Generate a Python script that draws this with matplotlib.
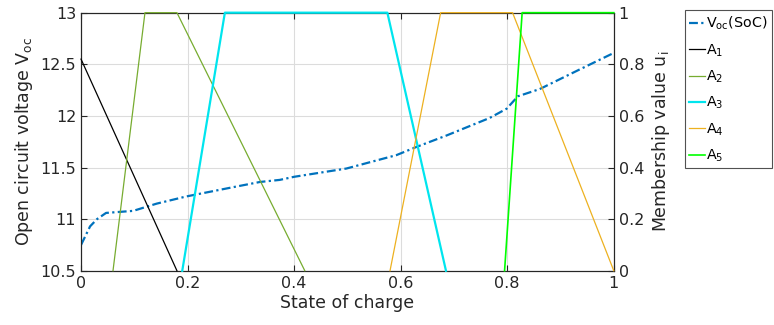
import matplotlib
matplotlib.use("Agg")
import matplotlib.pyplot as plt
import numpy as np

# Open circuit voltage curve
soc = [0, 0.017, 0.03, 0.047, 0.098, 0.142, 0.198, 0.286, 0.336, 0.373, 0.4,
       0.498, 0.592, 0.63, 0.686, 0.767, 0.799, 0.82, 0.861, 0.936, 1.0]
voc = [10.75, 10.93, 11.0, 11.06, 11.08, 11.15, 11.22, 11.31, 11.36, 11.38, 11.41,
       11.49, 11.62, 11.70, 11.81, 11.98, 12.07, 12.19, 12.26, 12.45, 12.61]

# Membership functions (trapezoid breakpoints)
a1_x = [0, 0.18]
a1_y = [0.82, 0]
a2_x = [0.06, 0.12, 0.18, 0.42]
a2_y = [0, 1, 1, 0]
a3_x = [0.19, 0.27, 0.575, 0.685]
a3_y = [0, 1, 1, 0]
a4_x = [0.58, 0.675, 0.81, 1.0]
a4_y = [0, 1, 1, 0]
a5_x = [0.795, 0.828, 1.0]
a5_y = [0, 1, 1]

xticks = [0, 0.2, 0.4, 0.6, 0.8, 1]
yticks_left = [10.5, 11, 11.5, 12, 12.5, 13]
yticks_right = [0, 0.2, 0.4, 0.6, 0.8, 1]

plt.rcParams['font.family'] = ['DejaVu Sans']
fig = plt.figure(figsize=(7.74, 3.25), dpi=100)
ax = fig.add_axes([0.1047, 0.167, 0.793 - 0.1047, 0.961 - 0.167])
ax2 = ax.twinx()

gc = '#dcdcdc'
ax.set_xlim(0, 1)
ax.set_ylim(10.5, 13)
ax.set_xticks(xticks)
ax.set_xticklabels(['0', '0.2', '0.4', '0.6', '0.8', '1'])
ax.set_yticks(yticks_left)
ax.set_yticklabels(['10.5', '11', '11.5', '12', '12.5', '13'])
ax.grid(True, color=gc, linewidth=0.8)
ax.set_axisbelow(True)

lv, = ax.plot(soc, voc, color='#0072BD', linestyle=(0, (4, 1.5, 1, 1.5)), linewidth=1.6,
              label=r'V$_{\mathrm{oc}}$(SoC)', zorder=3)

ax2.set_ylim(0, 1)
ax2.set_yticks(yticks_right)
ax2.set_yticklabels(['0', '0.2', '0.4', '0.6', '0.8', '1'])
kw = dict(clip_on=False, zorder=5)
l1, = ax2.plot(a1_x, a1_y, color='black', linewidth=0.9, label=r'A$_1$', **kw)
l2, = ax2.plot(a2_x, a2_y, color='#77AC30', linewidth=0.9, label=r'A$_2$', **kw)
l3, = ax2.plot(a3_x, a3_y, color='#00E5EE', linewidth=1.6, label=r'A$_3$', **kw)
l4, = ax2.plot(a4_x, a4_y, color='#EDB120', linewidth=0.9, label=r'A$_4$', **kw)
l5, = ax2.plot(a5_x, a5_y, color='#00FF00', linewidth=1.2, label=r'A$_5$', **kw)
ax2.set_xlim(0, 1)

for a in (ax, ax2):
    a.tick_params(direction='in', labelsize=11.5, color='#262626', labelcolor='#262626',
                  length=4, top=True)
    for s in a.spines.values():
        s.set_color('#262626')
        s.set_linewidth(0.8)
ax.tick_params(axis='x', pad=4)

ax.set_xlabel('State of charge', fontsize=12.5, color='#262626', labelpad=2)
ax.set_ylabel(r'Open circuit voltage V$_{\mathrm{oc}}$', fontsize=12.5, color='#262626', labelpad=4)
ax2.set_ylabel(r'Membership value u$_{\mathrm{i}}$', fontsize=12.5, color='#262626', labelpad=4)

leg = fig.legend(handles=[lv, l1, l2, l3, l4, l5], loc='upper left',
                 bbox_to_anchor=(0.885, 0.968), fontsize=10.3, frameon=True,
                 fancybox=False, edgecolor='#262626', handlelength=1.1,
                 handletextpad=0.1, borderpad=0.3, labelspacing=0.7, borderaxespad=0)
leg.get_frame().set_linewidth(0.8)

fig.savefig('out.png', dpi=100)
